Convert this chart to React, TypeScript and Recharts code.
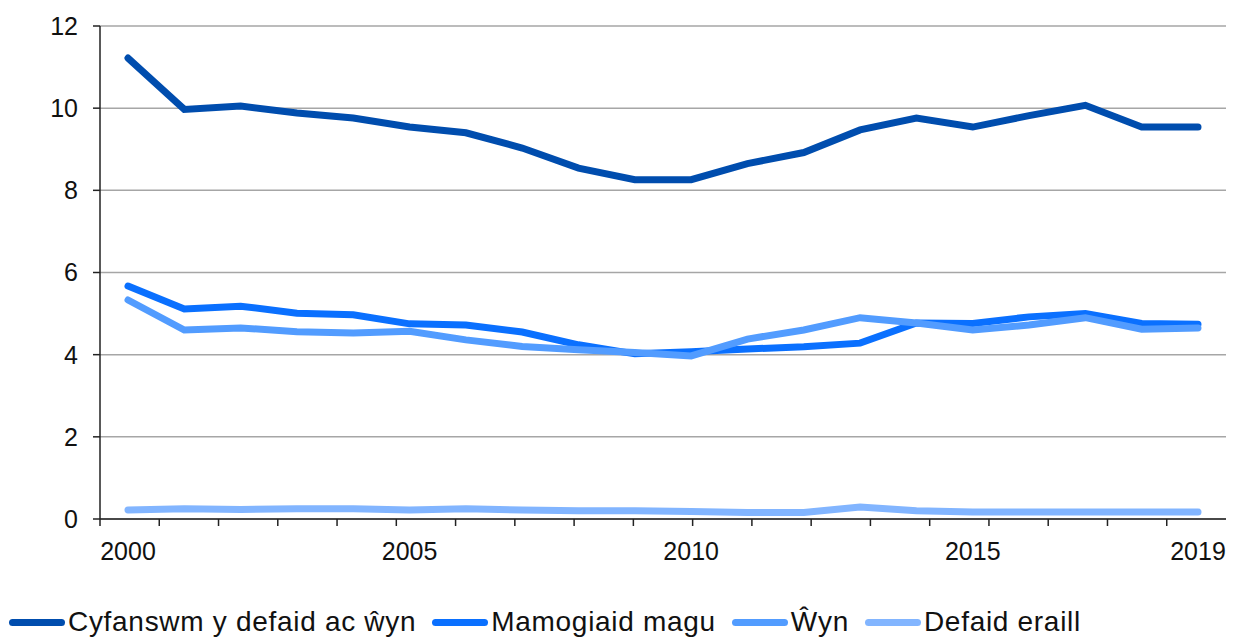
import { LineChart, Line, XAxis, YAxis, CartesianGrid, Legend } from 'recharts';

const years = [2000, 2001, 2002, 2003, 2004, 2005, 2006, 2007, 2008, 2009, 2010, 2011, 2012, 2013, 2014, 2015, 2016, 2017, 2018, 2019];
const cyfanswm = [11.22, 9.97, 10.05, 9.88, 9.76, 9.54, 9.4, 9.03, 8.54, 8.26, 8.26, 8.65, 8.92, 9.47, 9.76, 9.54, 9.82, 10.07, 9.54, 9.54];
const mamogiaid = [5.67, 5.11, 5.18, 5.01, 4.97, 4.75, 4.72, 4.55, 4.24, 4.02, 4.07, 4.14, 4.19, 4.28, 4.77, 4.76, 4.92, 5.0, 4.76, 4.74];
const wyn = [5.33, 4.6, 4.65, 4.56, 4.53, 4.57, 4.36, 4.2, 4.12, 4.05, 3.97, 4.38, 4.6, 4.9, 4.77, 4.6, 4.72, 4.9, 4.62, 4.65];
const eraill = [0.22, 0.25, 0.23, 0.25, 0.25, 0.22, 0.25, 0.22, 0.2, 0.2, 0.18, 0.16, 0.16, 0.29, 0.2, 0.17, 0.17, 0.17, 0.17, 0.17];

const yearTicks = [2000, 2005, 2010, 2015, 2019];
const yTicks = [0, 2, 4, 6, 8, 10, 12];
// tick marks sit on the boundaries between years
const edgeTicks = Array.from({ length: years.length + 1 }, (_, i) => i);

const series = [
  { key: 'cyfanswm', name: 'Cyfanswm y defaid ac ŵyn', color: '#004DAE' },
  { key: 'mamogiaid', name: 'Mamogiaid magu', color: '#0A70FF' },
  { key: 'wyn', name: 'Ŵyn', color: '#529CFF' },
  { key: 'eraill', name: 'Defaid eraill', color: '#82B5FF' },
];

const data = years.map((year, i) => ({
  year,
  cyfanswm: cyfanswm[i],
  mamogiaid: mamogiaid[i],
  wyn: wyn[i],
  eraill: eraill[i],
}));

const font = '"Liberation Sans", Arial, sans-serif';

function LegendContent() {
  return (
    <div style={{ display: 'flex', alignItems: 'center', height: 34, paddingLeft: 9, fontFamily: font }}>
      {series.map((s) => (
        <div key={s.key} style={{ display: 'flex', alignItems: 'center', marginRight: 16 }}>
          <div style={{ width: 56, height: 7, borderRadius: 4, background: s.color, marginRight: 3 }} />
          <span style={{ fontSize: 28, letterSpacing: 0.7, color: '#111', lineHeight: '34px' }}>{s.name}</span>
        </div>
      ))}
    </div>
  );
}

export default function App() {
  return (
    <div style={{ position: 'absolute', left: 0, top: 0 }}>
      <LineChart width={1234} height={639} data={data} margin={{ top: 26, right: 8, left: 10, bottom: 0 }}>
        <CartesianGrid vertical={false} stroke="#a6a6a6" strokeWidth={1.5} xAxisId="years" />
        <XAxis
          xAxisId="edges"
          type="number"
          domain={[0, years.length]}
          ticks={edgeTicks}
          tick={() => <g />}
          tickSize={7}
          height={8}
          stroke="#222"
          strokeWidth={1.5}
        />
        <XAxis
          xAxisId="years"
          dataKey="year"
          ticks={yearTicks}
          interval={0}
          padding={{ left: 28, right: 28 }}
          axisLine={false}
          tickLine={false}
          tickSize={0}
          tickMargin={15}
          height={78}
          tick={{ fontSize: 25, fill: '#111', fontFamily: font }}
        />
        <YAxis
          domain={[0, 12]}
          ticks={yTicks}
          width={90}
          tickSize={7}
          tickMargin={15}
          stroke="#222"
          strokeWidth={1.5}
          tick={{ fontSize: 25, fill: '#111', fontFamily: font }}
        />
        <Legend verticalAlign="bottom" wrapperStyle={{ left: 0, width: 1234 }} content={<LegendContent />} />
        {series.map((s) => (
          <Line
            key={s.key}
            xAxisId="years"
            type="linear"
            dataKey={s.key}
            name={s.name}
            stroke={s.color}
            strokeWidth={7}
            strokeLinecap="round"
            dot={false}
            activeDot={false}
            isAnimationActive={false}
          />
        ))}
      </LineChart>
    </div>
  );
}
